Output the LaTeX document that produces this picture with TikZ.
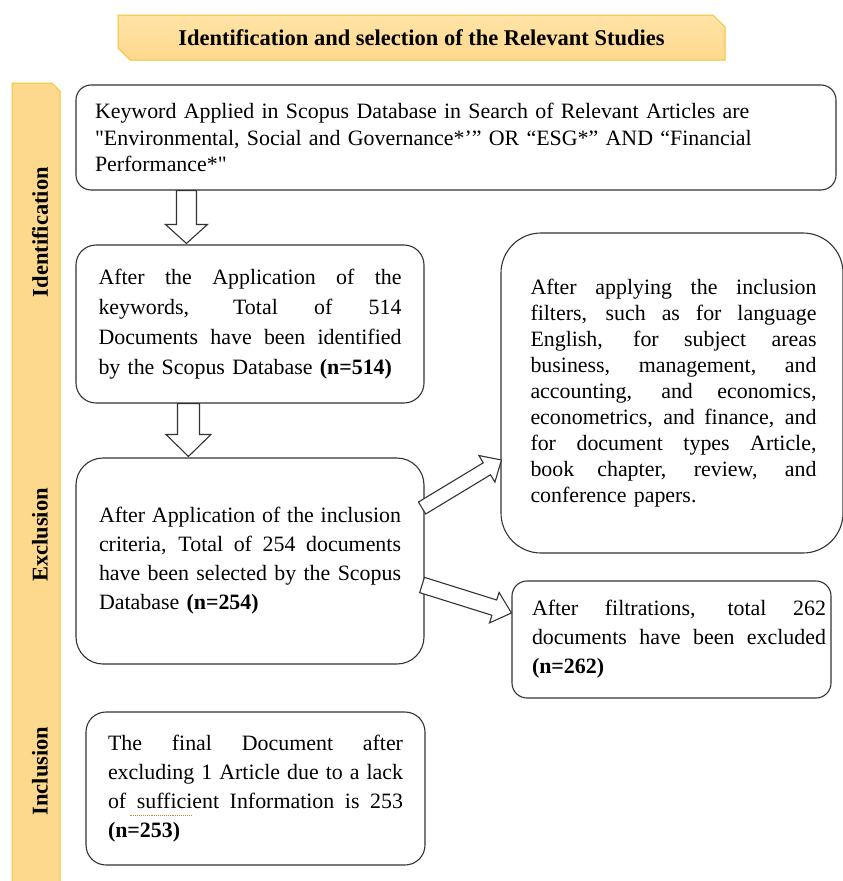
\documentclass[tikz,border=0pt]{standalone}
\usepackage{fontspec}
\setmainfont{Liberation Serif}[Ligatures=TeXOff]
\usetikzlibrary{calc,shapes.misc}
\definecolor{barfill}{HTML}{FDD98D}
\definecolor{bartop}{HTML}{FFE3A6}
\definecolor{barline}{HTML}{F6C137}
\definecolor{boxline}{HTML}{333333}
\definecolor{squiggle}{HTML}{C08A2A}
% justified line: #1 indent, #2 width, #3 text
\newcommand{\jl}[3]{\hspace*{#1}{\spaceskip=0.25em plus 1fil minus 0.06em\relax\hbox to #2{#3}}\\}
\newcommand{\blockarrow}[5]{%
  \coordinate (ba-h) at ($(#2)!#5!(#1)$);
  \draw[blockarr] ($(#1)!#3!90:(#2)$) -- ($(ba-h)!#3!90:(#2)$) -- ($(ba-h)!#4!90:(#2)$) -- (#2)
    -- ($(ba-h)!#4!-90:(#2)$) -- ($(ba-h)!#3!-90:(#2)$) -- ($(#1)!#3!-90:(#2)$) -- cycle;}
\begin{document}
\begin{tikzpicture}[x=1pt,y=-1pt,
  box/.style={draw=boxline, line width=1.1pt, inner sep=0pt, align=left},
  txt/.style={font=\fontsize{21.9}{#1}\selectfont},
  lbl/.style={font=\fontsize{22.5}{26}\selectfont\bfseries, rotate=90, inner sep=0pt},
  blockarr/.style={draw=boxline, fill=white, line width=1.1pt, line join=miter}]
\useasboundingbox (0,0) rectangle (843,881);
% side bar
\filldraw[fill=barfill, draw=barline, line width=1pt] (12,886) -- (12,83) -- (52,83) -- (60,91) -- (60,886);
% header
\node[chamfered rectangle, chamfered rectangle corners={north east,south west},
  chamfered rectangle xsep=6pt, chamfered rectangle ysep=6pt,
  draw=barline, line width=1pt, top color=bartop, bottom color=barfill,
  minimum width=607pt, minimum height=45pt, inner sep=0pt,
  font=\fontsize{22.5}{26}\selectfont\bfseries] (hdr) at (421.5,37.5)
  {Identification and selection of the Relevant Studies};
% side labels
\node[lbl] (lid) at (40,232) {Identification};
\node[lbl] (lex) at (40,535) {Exclusion};
\node[lbl] (lin) at (40,771) {Inclusion};
% boxes
\node[box, rounded corners=15pt, minimum width=760pt, minimum height=105pt, text width=722pt, txt=26.5] (b1) at (456,137.5)
  {Keyword Applied in Scopus Database in Search of Relevant Articles are\\
   "Environmental, Social and Governance*’” OR “ESG*” AND “Financial\\
   Performance*"};
\node[box, rounded corners=20pt, minimum width=348pt, minimum height=158pt, text width=303pt, txt=30] (b2) at (250,324)
  {\jl{0pt}{303pt}{After the Application of the}
   \jl{0pt}{303pt}{keywords, Total of 514}
   \jl{0pt}{303pt}{Documents have been identified}
   by the Scopus Database \textbf{(n=514)}};
\node[box, rounded corners=27pt, minimum width=348pt, minimum height=206pt, text width=302pt, txt=29] (b3) at (250,561)
  {\jl{0pt}{302pt}{After Application of the inclusion}
   \jl{0pt}{302pt}{criteria, Total of 254 documents}
   \jl{0pt}{302pt}{have been selected by the Scopus}
   Database \textbf{(n=254)}};
\node[box, rounded corners=40pt, minimum width=342pt, minimum height=320pt, text width=289pt, txt=26] (r1) at (672,393)
  {\jl{3pt}{286pt}{After applying the inclusion}
   \jl{3pt}{286pt}{filters, such as for language}
   \jl{3pt}{286pt}{English, for subject areas}
   \jl{3pt}{286pt}{business, management, and}
   \jl{3pt}{286pt}{accounting, and economics,}
   \jl{3pt}{286pt}{econometrics, and finance, and}
   \jl{3pt}{286pt}{for document types Article,}
   \jl{3pt}{286pt}{book chapter, review, and}
   \hspace*{3pt}conference papers.};
\node[box, rounded corners=15pt, minimum width=319pt, minimum height=117pt, text width=309pt, txt=29] (r2) at (671.5,639.5)
  {\jl{15pt}{294pt}{After filtrations, total 262}
   \jl{15pt}{294pt}{documents have been excluded}
   \hspace*{15pt}\textbf{(n=262)}};
\node[box, rounded corners=20pt, minimum width=339pt, minimum height=153pt, text width=295pt, txt=29] (bot) at (255.5,788.5)
  {\jl{0pt}{295pt}{The final Document after}
   \jl{0pt}{295pt}{excluding 1 Article due to a lack}
   \jl{0pt}{295pt}{of sufficient Information is 253}
   \textbf{(n=253)}};
% spell-check underline under "sufficient"
\draw[squiggle, densely dotted, line width=1.1pt] ($(bot.west)+(45,27)$) -- ++(61,0);
% block arrows
\coordinate (d1e) at ($(b2.north west)+(111,-1)$);
\coordinate (d1s) at (d1e |- b1.south);
\blockarrow{d1s}{d1e}{10pt}{21pt}{19pt}
\coordinate (d2e) at ($(b3.north west)+(113,-1)$);
\coordinate (d2s) at (d2e |- b2.south);
\blockarrow{d2s}{d2e}{11pt}{22.5pt}{22pt}
\coordinate (a1s) at ($(b3.east)+(-2.5,-53)$);
\coordinate (a1e) at ($(r1.west)+(1,67)$);
\blockarrow{a1s}{a1e}{7pt}{15.5pt}{17pt}
\coordinate (a2s) at ($(b3.east)+(-2.5,24)$);
\coordinate (a2e) at ($(r2.west)+(0,-26.5)$);
\blockarrow{a2s}{a2e}{8pt}{16pt}{18pt}
\end{tikzpicture}
\end{document}
